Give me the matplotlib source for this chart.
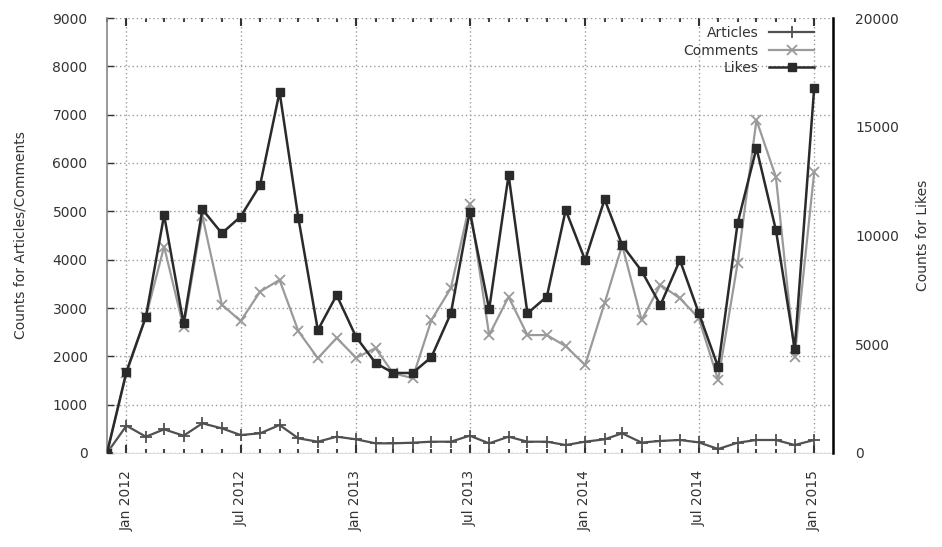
import matplotlib
matplotlib.use("Agg")
import matplotlib.pyplot as plt
import matplotlib.dates as mdates
import pandas as pd

months = pd.date_range("2011-12-01", periods=38, freq="MS")

articles = [0, 565, 337, 490, 358, 614, 510, 372, 407, 579, 303, 234, 337, 283,
            200, 200, 213, 234, 234, 358, 200, 337, 234, 234, 165, 234, 283, 407,
            215, 250, 269, 220, 83, 213, 269, 269, 165, 269]
comments = [0, 1650, 2820, 4270, 2600, 4900, 3070, 2730, 3340, 3580, 2520, 1960,
            2380, 1970, 2170, 1650, 1550, 2750, 3410, 5150, 2440, 3230, 2440, 2440,
            2210, 1820, 3100, 4300, 2750, 3480, 3200, 2790, 1510, 3930, 6890, 5710,
            1990, 5810]
likes = [0, 3740, 6270, 10940, 5960, 11200, 10100, 10870, 12320, 16600, 10800,
         5650, 7260, 5330, 4140, 3680, 3680, 4410, 6420, 11100, 6600, 12780, 6420,
         7190, 11170, 8870, 11660, 9560, 8370, 6800, 8870, 6440, 3950, 10570, 14020,
         10250, 4800, 16780]

left_ticks = list(range(0, 9001, 1000))
right_ticks = list(range(0, 20001, 5000))

plt.rcParams["font.family"] = ["DejaVu Sans"]
fig = plt.figure(figsize=(9.42, 5.47), dpi=100)
ax = fig.add_axes([107/942, 1-453/547, (833-107)/942, (453-18)/547])
ax2 = ax.twinx()

ax.plot(months, articles, color="#505050", lw=1.6, marker="+", ms=8, mew=1.3,
        label="Articles", zorder=3)
ax.plot(months, comments, color="#9a9a9a", lw=1.6, marker="x", ms=7, mew=1.3,
        label="Comments", zorder=3)
ax2.plot(months, likes, color="#2a2a2a", lw=1.8, marker="s", ms=6,
         label="Likes", zorder=3)

ax.set_ylim(0, 9000)
ax2.set_ylim(0, 20000)
ax.set_yticks(left_ticks)
ax2.set_yticks(right_ticks)
ax.set_xlim(pd.Timestamp("2011-12-01"), pd.Timestamp("2015-01-31"))

ax.xaxis.set_major_locator(mdates.MonthLocator(bymonth=[1, 7]))
ax.xaxis.set_major_formatter(mdates.DateFormatter("%b %Y"))
ax.xaxis.set_minor_locator(mdates.MonthLocator())
for lab in ax.get_xticklabels():
    lab.set_rotation(90)

tc = "#333333"
ax.tick_params(axis="x", which="major", direction="in", length=6, width=1.5,
               top=True, labelsize=10, colors=tc, pad=12)
ax.tick_params(axis="x", which="minor", direction="in", length=3, width=1.5,
               top=True, colors="#444444")
ax.tick_params(axis="y", which="major", direction="in", length=5, width=1,
               labelsize=10, colors=tc, pad=14)
ax2.tick_params(axis="y", direction="in", length=0, labelsize=10, colors=tc, pad=16)

ax.grid(True, which="major", axis="both", linestyle=(0, (1, 2)), color="#999999", lw=1)

ax.spines["top"].set_visible(False)
ax2.spines["top"].set_visible(False)
ax.spines["left"].set_color("#888888")
ax.spines["left"].set_linewidth(1.2)
ax.spines["bottom"].set_color("#dddddd")
ax2.spines["bottom"].set_visible(False)
ax2.spines["left"].set_visible(False)
ax2.spines["right"].set_color("#000000")
ax2.spines["right"].set_linewidth(1.8)
ax.spines["right"].set_visible(False)

ax.set_ylabel("Counts for Articles/Comments", fontsize=10, color=tc, labelpad=18)
ax2.set_ylabel("Counts for Likes", fontsize=10, color=tc, labelpad=12)

h1, l1 = ax.get_legend_handles_labels()
h2, l2 = ax2.get_legend_handles_labels()
leg = ax2.legend(h1 + h2, l1 + l2, loc="upper right", frameon=False, markerfirst=False,
                 fontsize=10, handlelength=3.2, borderaxespad=0.2, labelspacing=0.25,
                 bbox_to_anchor=(0.985, 1.0))
for t in leg.get_texts():
    t.set_color(tc)

fig.savefig("out.png", dpi=100)
